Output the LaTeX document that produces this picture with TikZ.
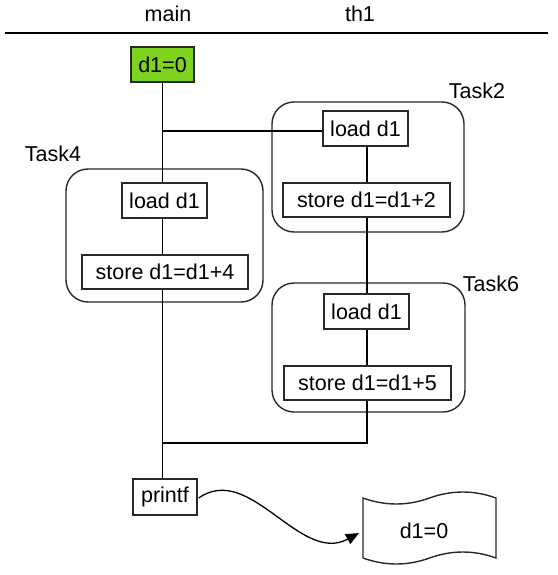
\documentclass[tikz,border=0pt]{standalone}
\usepackage{fontspec}
\setmainfont{Liberation Sans}
\usetikzlibrary{arrows.meta}
\definecolor{initgreen}{RGB}{126,211,33}
\definecolor{edgegray}{RGB}{40,40,40}
\begin{document}
\begin{tikzpicture}[x=1pt,y=-1pt,
  every node/.style={font=\fontsize{21.5}{25}\selectfont, text=black},
  op/.style={draw=edgegray, line width=1.4pt, fill=white, inner sep=0pt, minimum height=35pt},
  task/.style={draw=edgegray, line width=1.4pt, rounded corners=22pt},
  wire/.style={draw=black, line width=1.3pt},
  lane/.style={inner sep=0pt}]
\useasboundingbox (0,0) rectangle (557,575);

% thread headers and rule
\node[lane] (hmain) at (168,14) {main};
\node[lane] (hth) at (360,14) {th1};
\draw[line width=1.3pt] (5,33) -- (548,33);

% task groups
\draw[task] (272,102) rectangle (464,232);
\draw[task] (66,169) rectangle (263,302);
\draw[task] (272,283) rectangle (465,412);
\node[lane] (t2) at (477,91) {Task2};
\node[lane] (t4) at (53,154) {Task4};
\node[lane] (t6) at (491,284) {Task6};

% operations
\node[op, fill=initgreen, minimum width=63pt] (d0) at (162.5,64.5) {d1=0};
\node[op, minimum width=85pt] (load2) at (365.5,128.5) {load d1};
\node[op, minimum width=167pt, minimum height=34pt] (store2) at (366.5,200) {store d1=d1+2};
\node[op, minimum width=85pt] (load4) at (164.5,200.5) {load d1};
\node[op, minimum width=166pt, minimum height=34pt] (store4) at (165,272) {store d1=d1+4};
\node[op, minimum width=85pt] (load6) at (366.5,311.5) {load d1};
\node[op, minimum width=167pt, minimum height=34pt] (store6) at (367.5,383) {store d1=d1+5};
\node[op, minimum width=64pt, minimum height=36pt] (printf) at (165,497) {printf};

% junction points on the main lane
\coordinate (j1) at (162.5,131);
\coordinate (j2) at (162.5,443);

% main lane
\draw[wire] (d0.south) -- (d0.south |- load4.north);
\draw[wire] (d0.south |- load4.south) -- (d0.south |- store4.north);
\draw[wire] (d0.south |- store4.south) -- (d0.south |- printf.north);

% th1 lane
\draw[wire] (j1) -- (j1 -| load2.west);
\draw[wire] (367,146) coordinate (a2) -- (a2 |- store2.north);
\draw[wire] (a2 |- store2.south) -- (a2 |- load6.north);
\draw[wire] (a2 |- load6.south) -- (a2 |- store6.north);
\draw[wire] (a2 |- store6.south) |- (j2);

% output tape
\draw[line width=1.4pt, draw=edgegray, fill=white]
  (363,498) .. controls (385.2,506) and (407.3,506) .. (429.5,498)
  .. controls (451.7,490) and (473.8,490) .. (496,498)
  -- (496,558)
  .. controls (473.8,550) and (451.7,550) .. (429.5,558)
  .. controls (407.3,566) and (385.2,566) .. (363,558) -- cycle;
\node[lane] (out) at (424,531) {d1=0};
\coordinate (tapein) at (359,533);

% print arrow
\draw[line width=1.3pt, -{Triangle[length=13pt,width=11pt]}]
  (printf.east) ++(1,1) .. controls (250,462) and (300,565) .. (tapein);
\end{tikzpicture}
\end{document}
